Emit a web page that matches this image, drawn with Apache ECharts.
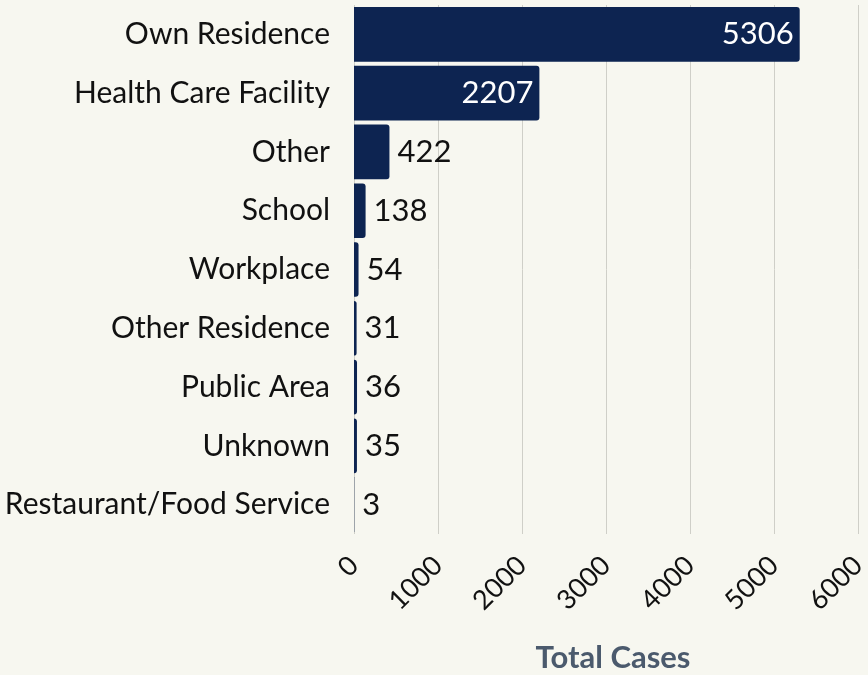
<!DOCTYPE html>
<html><head><meta charset="utf-8">
<script src="https://cdn.jsdelivr.net/npm/echarts@6/dist/echarts.min.js"></script>
<style>html,body{margin:0;padding:0;background:#f7f7f0;}#c{width:868px;height:675px;}</style>
</head><body><div id="c"></div>
<script>
const categories = ["Own Residence","Health Care Facility","Other","School","Workplace","Other Residence","Public Area","Unknown","Restaurant/Food Service"];
const values = [5306,2207,422,138,54,31,36,35,3];
const xTicks = {min:0, max:6000, interval:1000};

const FONT = "Lato, 'Noto Sans', sans-serif";
const chart = echarts.init(document.getElementById('c'), null, {renderer:'canvas'});
chart.setOption({
  backgroundColor:'#f7f7f0',
  animation:false,
  grid:{left:354, right:10, top:5, bottom:141, containLabel:false, outerBoundsMode:'none'},
  xAxis:{type:'value', min:xTicks.min, max:xTicks.max, interval:xTicks.interval,
    axisLine:{show:false}, axisTick:{show:false},
    splitLine:{show:true, lineStyle:{color:'#cfcfc8', width:1}},
    axisLabel:{rotate:45, fontFamily:FONT, fontSize:27, color:'#111', margin:27,
      formatter: v => String(v)},
    name:'Total Cases', nameLocation:'middle', nameGap:108,
    nameTextStyle:{fontFamily:FONT, fontSize:31, fontWeight:'bold', color:'#4b5a6d', padding:[0,0,0,14]}
  },
  yAxis:{type:'category', data:categories, inverse:true,
    axisLine:{show:false}, axisTick:{show:false},
    axisLabel:{fontFamily:FONT, fontSize:30, color:'#111', margin:24}
  },
  series:[{type:'bar', barCategoryGap:'7%',
    itemStyle:{color:'#0d2451', borderRadius:[0,3,3,0]},
    data: values.map(v => ({value:v, label: v > 1000 ?
      {position:'insideRight', color:'#fff', distance:6} :
      {position:'right', color:'#111', distance:8}})),
    label:{show:true, fontFamily:FONT, fontSize:31}
  }]
});
</script></body></html>
